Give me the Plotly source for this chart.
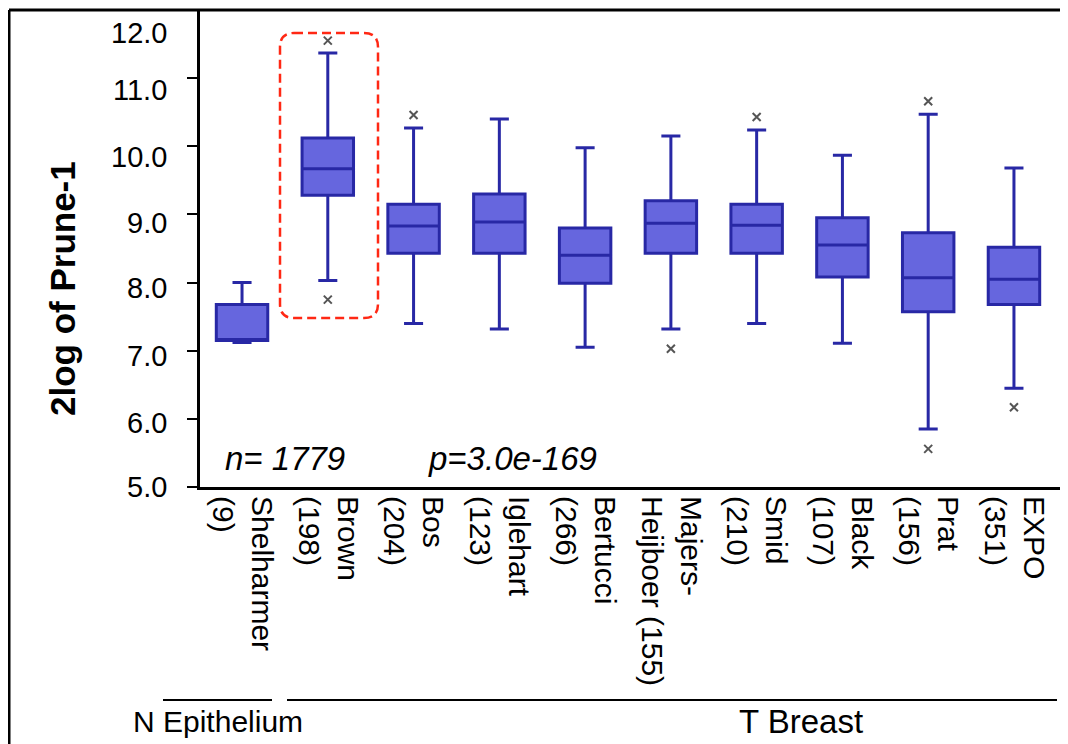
import plotly.graph_objects as go

# ---- data ----
categories = ["Shelharmer<br>(9)", "Brown<br>(198)", "Bos<br>(204)", "Iglehart<br>(123)",
              "Bertucci<br>(266)", "Majers-<br>Heijboer (155)", "Smid<br>(210)",
              "Black<br>(107)", "Prat<br>(156)", "EXPO<br>(351)"]
lower_fence = [7.12, 8.03, 7.40, 7.32, 7.05, 7.32, 7.40, 7.11, 5.85, 6.45]
q1          = [7.15, 9.28, 8.43, 8.43, 7.99, 8.43, 8.43, 8.08, 7.57, 7.68]
median      = [7.16, 9.67, 8.83, 8.89, 8.40, 8.87, 8.84, 8.55, 8.07, 8.05]
q3          = [7.68, 10.12, 9.15, 9.30, 8.80, 9.20, 9.15, 8.95, 8.73, 8.52]
upper_fence = [8.00, 11.37, 10.27, 10.40, 9.98, 10.15, 10.24, 9.87, 10.47, 9.68]
outlier_cat = ["Brown<br>(198)", "Brown<br>(198)", "Bos<br>(204)", "Majers-<br>Heijboer (155)",
               "Smid<br>(210)", "Prat<br>(156)", "Prat<br>(156)", "EXPO<br>(351)"]
outlier_val = [11.55, 7.75, 10.46, 7.03, 10.43, 10.66, 5.56, 6.17]
y_ticks = [5, 6, 7, 8, 9, 10, 11, 12]
y_tick_labels = ["5.0", "6.0", "7.0", "8.0", "9.0", "10.0", "11.0", "12.0"]

FONT = "Arial, Liberation Sans, sans-serif"

fig = go.Figure()
fig.add_trace(go.Box(
    x=categories, q1=q1, median=median, q3=q3,
    lowerfence=lower_fence, upperfence=upper_fence,
    boxpoints=False, width=0.6, whiskerwidth=0.37,
    fillcolor="rgb(102,102,222)", line=dict(color="rgb(40,40,165)", width=3),
    showlegend=False, hoverinfo="skip"))
fig.add_trace(go.Scatter(
    x=outlier_cat, y=outlier_val, mode="markers",
    marker=dict(symbol="x-thin", size=8, line=dict(color="#555555", width=2), color="#555555"),
    showlegend=False, hoverinfo="skip"))

# page has an 8px body margin; work in page pixel coordinates
OFF = 8
W, H = 1068 - OFF, 744 - OFF
PL, PT, PB, PR = 200, 10, 487, 1068     # plot area edges in page pixels
L, T, B = PL - OFF, PT - OFF, PB - OFF
pw, ph = PR - PL, PB - PT
def px(x):
    return (x - PL) / pw
def py(y):
    return (PB - y) / ph

shapes = []
# outer frame
shapes.append(dict(type="line", xref="paper", yref="paper", x0=px(9), x1=px(9), y0=py(10), y1=py(760),
                   line=dict(color="black", width=3)))
shapes.append(dict(type="line", xref="paper", yref="paper", x0=px(9), x1=px(1080), y0=py(10), y1=py(10),
                   line=dict(color="black", width=3)))
# group lines
shapes.append(dict(type="line", xref="paper", yref="paper", x0=px(163), x1=px(272), y0=py(700), y1=py(700),
                   line=dict(color="black", width=2)))
shapes.append(dict(type="line", xref="paper", yref="paper", x0=px(287), x1=px(1057), y0=py(700), y1=py(700),
                   line=dict(color="black", width=2)))
# red dashed rounded rectangle
x0, x1, y0, y1 = px(280), px(378), py(318), py(33)
rx, ry = 14 / pw, 14 / ph
path = (f"M {x0+rx},{y1} L {x1-rx},{y1} Q {x1},{y1} {x1},{y1-ry} "
        f"L {x1},{y0+ry} Q {x1},{y0} {x1-rx},{y0} "
        f"L {x0+rx},{y0} Q {x0},{y0} {x0},{y0+ry} "
        f"L {x0},{y1-ry} Q {x0},{y1} {x0+rx},{y1} Z")
shapes.append(dict(type="path", xref="paper", yref="paper", path=path,
                   line=dict(color="rgb(255,40,20)", width=2.5, dash="9px,5px")))

annotations = [
    dict(text="<b>2log of Prune-1</b>", xref="paper", yref="paper", x=px(62), y=py(289), textangle=-90,
         showarrow=False, font=dict(family=FONT, size=35, color="black"), xanchor="center", yanchor="middle"),
    dict(text="<i>n= 1779</i>", xref="paper", yref="paper", x=px(285), y=py(458),
         showarrow=False, font=dict(family=FONT, size=33, color="black"), xanchor="center", yanchor="middle"),
    dict(text="<i>p=3.0e-169</i>", xref="paper", yref="paper", x=px(512), y=py(458),
         showarrow=False, font=dict(family=FONT, size=33, color="black"), xanchor="center", yanchor="middle"),
    dict(text="N Epithelium", xref="paper", yref="paper", x=px(218), y=py(721),
         showarrow=False, font=dict(family=FONT, size=30, color="black"), xanchor="center", yanchor="middle"),
    dict(text="T Breast", xref="paper", yref="paper", x=px(801), y=py(721),
         showarrow=False, font=dict(family=FONT, size=33, color="black"), xanchor="center", yanchor="middle"),
]
# y tick labels (slightly displaced downward in the reference)
label_shift = {5: 0, 6: -4, 7: -5, 8: -5, 9: -9, 10: -11, 11: -12, 12: -23}
for v, lab in zip(y_ticks, y_tick_labels):
    annotations.append(dict(text=lab, xref="paper", yref="y", x=px(169), y=v, yshift=label_shift[v],
                            showarrow=False, xanchor="right", yanchor="middle",
                            font=dict(family=FONT, size=29, color="black")))

fig.update_layout(
    width=W, height=H,
    margin=dict(l=L, r=0, t=T, b=H - B, pad=0),
    paper_bgcolor="white", plot_bgcolor="white",
    font=dict(family=FONT, color="black"),
    shapes=shapes, annotations=annotations,
    xaxis=dict(type="category", categoryorder="array", categoryarray=categories,
               range=[-0.49, 9.63], showgrid=False, zeroline=False, automargin=False,
               showline=True, linecolor="black", linewidth=3,
               ticks="", tickangle=90, tickfont=dict(family=FONT, size=30, color="black")),
    yaxis=dict(range=[5, 12], tickvals=y_ticks, showticklabels=False, automargin=False,
               showgrid=False, zeroline=False, showline=True, linecolor="black", linewidth=3,
               ticks="outside", ticklen=10, tickwidth=2, tickcolor="black"),
)

fig.write_html("out.html")
